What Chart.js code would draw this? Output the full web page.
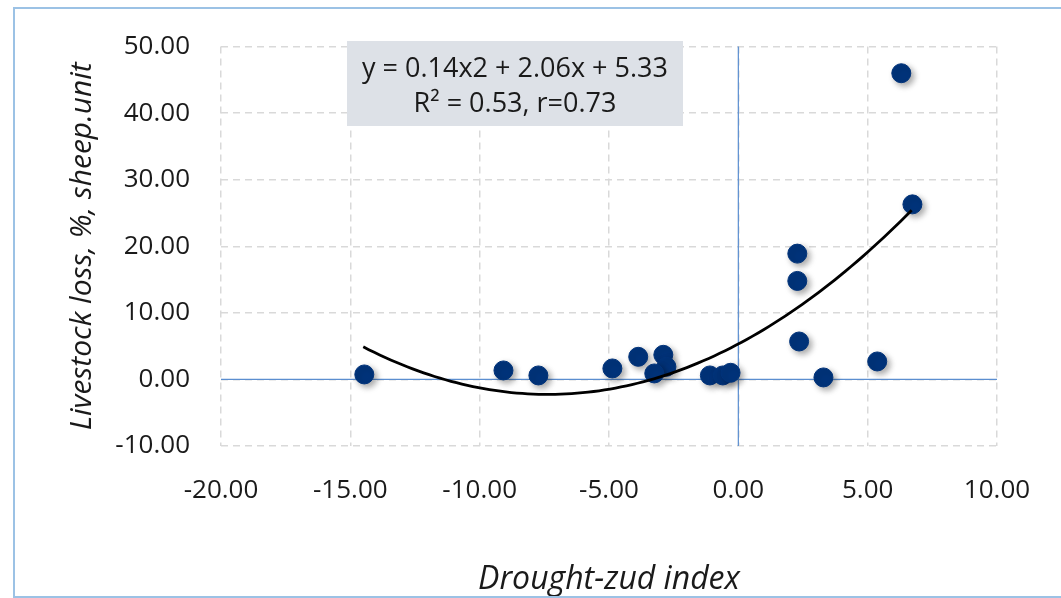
<!DOCTYPE html>
<html lang="en">
<head>
    <meta charset="UTF-8">
    <title>Drought-zud index vs livestock loss</title>
    <style>
        html, body { margin: 0; padding: 0; background: #fff; }
        #wrap { position: relative; width: 1061px; height: 598px; overflow: hidden; }
        #frame { position: absolute; left: 13px; top: 7px; width: 1100px; height: 591px;
                 border: 2px solid #9cc2e5; box-sizing: border-box; pointer-events: none; }
        canvas { position: absolute; left: 0; top: 0; }
    </style>
</head>
<body>
    <div id="wrap">
        <canvas id="chart" width="1061" height="598"></canvas>
        <div id="frame"></div>
    </div>
    <script src="https://cdn.jsdelivr.net/npm/chart.js@4.4.0/dist/chart.umd.min.js"></script>
    <script>
        // drought-zud index (x) and livestock loss (y)
        const droughtIndex = [-14.46, -9.08, -7.73, -4.87, -3.87, -2.90, -2.78, -3.25, -1.10, -0.60, -0.30, 2.28, 2.28, 2.35, 3.29, 5.37, 6.30, 6.73]
        const livestockLoss = [0.75, 1.35, 0.60, 1.65, 3.40, 3.70, 1.90, 0.90, 0.60, 0.60, 1.00, 18.90, 14.80, 5.70, 0.30, 2.70, 46.00, 26.30]
        // polynomial trendline shown in the label
        const trendA = 0.14, trendB = 2.06, trendC = 5.33
        const trendFrom = -14.5, trendTo = 6.7
        const xTicks = [-20, -15, -10, -5, 0, 5, 10]
        const yTicks = [-10, 0, 10, 20, 30, 40, 50]
        const labelLines = ['y = 0.14x2 + 2.06x + 5.33', 'R\u00b2 = 0.53, r=0.73']
        const xTitle = 'Drought-zud index'
        const yTitle = 'Livestock loss, %, sheep.unit'

        const FONT = "'Open Sans', sans-serif"

        const points = droughtIndex.map((x, i) => ({x: x, y: livestockLoss[i]}))
        const trend = []
        for (let i = 0; i <= 100; i++) {
            const x = trendFrom + (trendTo - trendFrom) * i / 100
            trend.push({x: x, y: trendA * x * x + trendB * x + trendC})
        }

        const zeroLines = {
            id: 'zeroLines',
            beforeDatasetsDraw(chart) {
                const {ctx, chartArea, scales} = chart
                const x0 = scales.x.getPixelForValue(0)
                const y0 = scales.y.getPixelForValue(0)
                ctx.save()
                ctx.strokeStyle = '#5b8ed0'
                ctx.lineWidth = 1.2
                ctx.beginPath()
                ctx.moveTo(chartArea.left, y0); ctx.lineTo(chartArea.right, y0)
                ctx.moveTo(x0, chartArea.top); ctx.lineTo(x0, chartArea.bottom)
                ctx.stroke()
                ctx.restore()
            }
        }

        const dotShadow = {
            id: 'dotShadow',
            beforeDatasetDraw(chart, args) {
                if (args.index !== 0) return
                const ctx = chart.ctx
                ctx.save()
                ctx.shadowColor = 'rgba(0,0,0,0.35)'
                ctx.shadowBlur = 6
                ctx.shadowOffsetX = 3
                ctx.shadowOffsetY = 3
            },
            afterDatasetDraw(chart, args) {
                if (args.index !== 0) return
                chart.ctx.restore()
            }
        }

        const eqLabel = {
            id: 'eqLabel',
            afterDraw(chart) {
                const ctx = chart.ctx
                ctx.save()
                ctx.fillStyle = '#dde1e7'
                ctx.fillRect(347, 41, 336, 85)
                ctx.fillStyle = '#1a1a1a'
                ctx.font = '27px ' + FONT
                ctx.textAlign = 'center'
                ctx.textBaseline = 'middle'
                ctx.fillText(labelLines[0], 515, 69)
                ctx.fillText(labelLines[1], 515, 104)
                ctx.restore()
            }
        }

        new Chart(document.getElementById('chart'), {
            type: 'scatter',
            data: {
                datasets: [
                    {
                        label: 'loss',
                        data: points,
                        backgroundColor: '#00337a',
                        borderColor: '#00337a',
                        pointRadius: 9.5,
                        pointHoverRadius: 9.5,
                        order: 1
                    },
                    {
                        label: 'trend',
                        data: trend,
                        showLine: true,
                        borderColor: '#000',
                        borderWidth: 2.8,
                        pointRadius: 0,
                        fill: false,
                        order: 0
                    }
                ]
            },
            options: {
                responsive: false,
                animation: false,
                layout: {padding: {top: 45, right: 64, left: 0, bottom: 0}},
                plugins: {legend: {display: false}, tooltip: {enabled: false}},
                scales: {
                    x: {
                        type: 'linear',
                        min: -20, max: 10,
                        afterBuildTicks(scale) { scale.ticks = xTicks.map(v => ({value: v})) },
                        afterFit(scale) { scale.height = 152 },
                        border: {display: false, dash: [7, 5]},
                        grid: {color: '#d9d9d9', lineWidth: 1.5, drawTicks: false},
                        ticks: {
                            padding: 29,
                            color: '#1a1a1a',
                            font: {family: FONT, size: 26},
                            callback: v => v.toFixed(2)
                        },
                        title: {
                            display: true, text: xTitle, color: '#1a1a1a',
                            font: {family: FONT, size: 32, style: 'italic', lineHeight: 1},
                            padding: {top: 0, bottom: 2}
                        }
                    },
                    y: {
                        type: 'linear',
                        min: -10, max: 50,
                        afterBuildTicks(scale) { scale.ticks = yTicks.map(v => ({value: v})) },
                        afterFit(scale) { scale.width = 221 },
                        border: {display: false, dash: [7, 5]},
                        grid: {color: '#d9d9d9', lineWidth: 1.5, drawTicks: false},
                        ticks: {
                            padding: 31,
                            color: '#1a1a1a',
                            font: {family: FONT, size: 26},
                            callback: v => v.toFixed(2)
                        },
                        title: {
                            display: true, text: yTitle, color: '#1a1a1a',
                            font: {family: FONT, size: 30, style: 'italic', lineHeight: 1},
                            padding: {top: 67, bottom: 0}
                        }
                    }
                }
            },
            plugins: [zeroLines, dotShadow, eqLabel]
        })
    </script>
</body>
</html>
